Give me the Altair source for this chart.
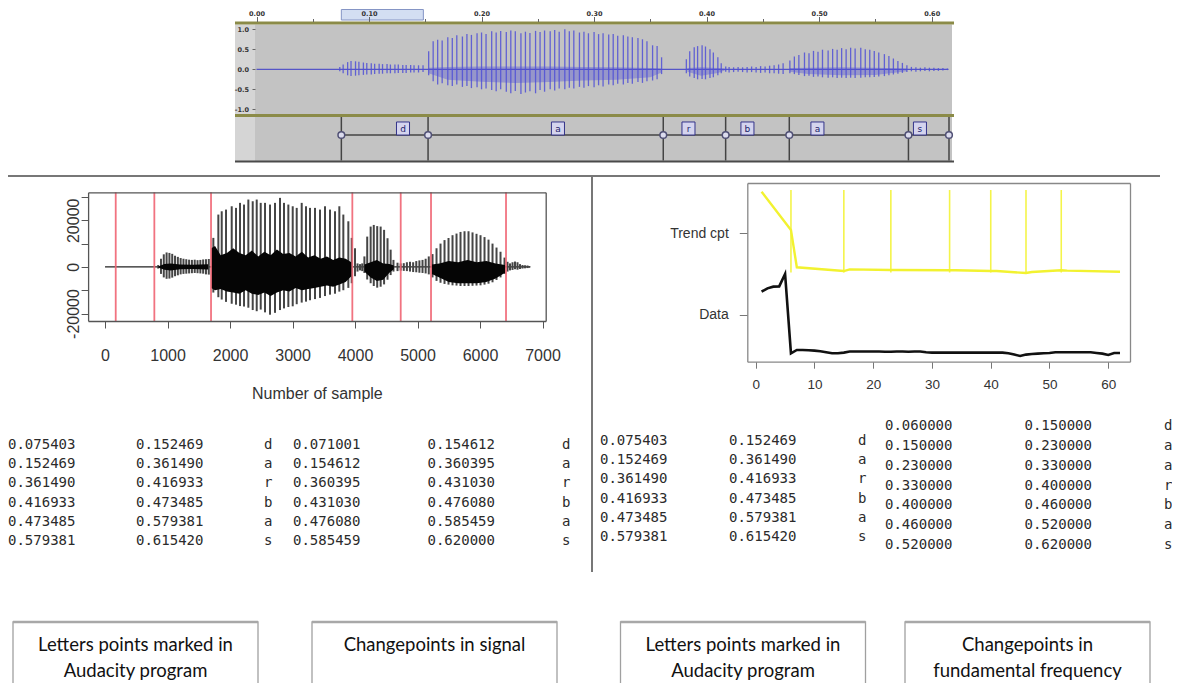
import altair as alt
import pandas as pd

W, H = 1164, 675
SANS = "Liberation Sans"
MONO = "DejaVu Sans Mono"
SMALL = "DejaVu Sans"
CAPF = "Liberation Sans Narrow, Lato, sans-serif"

# ======================= DATA =======================
# --- Audacity view (time in s, amplitude -1..1) ---
aud_time_ticks = [0.0, 0.1, 0.2, 0.3, 0.4, 0.5, 0.6]
aud_time_minor = [0.05, 0.15, 0.25, 0.35, 0.45, 0.55]
aud_amp_ticks = [-1.0, -0.5, 0.0, 0.5, 1.0]
aud_selection = [0.0754, 0.1483]
aud_signal_span = [0.0, 0.615]
aud_d = [(0.074, 0.06, -0.05), (0.077, 0.12, -0.10), (0.081, 0.18, -0.15), (0.084, 0.21, -0.17),
         (0.088, 0.20, -0.16), (0.091, 0.19, -0.15), (0.095, 0.17, -0.14), (0.098, 0.16, -0.13),
         (0.102, 0.15, -0.13), (0.105, 0.14, -0.12), (0.109, 0.14, -0.11), (0.112, 0.13, -0.11),
         (0.116, 0.13, -0.10), (0.119, 0.12, -0.10), (0.123, 0.12, -0.10), (0.126, 0.12, -0.09),
         (0.130, 0.11, -0.09), (0.133, 0.11, -0.09), (0.137, 0.11, -0.08), (0.140, 0.10, -0.08),
         (0.144, 0.10, -0.08), (0.148, 0.10, -0.07)]
aud_a = [(0.153, 0.45, -0.15), (0.157, 0.70, -0.30), (0.161, 0.74, -0.38), (0.165, 0.72, -0.35),
         (0.170, 0.80, -0.40), (0.174, 0.78, -0.42), (0.178, 0.85, -0.38), (0.183, 0.82, -0.44),
         (0.187, 0.88, -0.42), (0.191, 0.86, -0.47), (0.196, 0.90, -0.45), (0.200, 0.92, -0.50),
         (0.204, 0.88, -0.48), (0.209, 0.95, -0.52), (0.213, 0.92, -0.55), (0.217, 0.96, -0.50),
         (0.222, 0.93, -0.56), (0.226, 0.97, -0.60), (0.230, 0.95, -0.54), (0.235, 0.90, -0.62),
         (0.239, 0.94, -0.58), (0.243, 0.91, -0.55), (0.248, 0.96, -0.60), (0.252, 0.93, -0.52),
         (0.256, 0.97, -0.56), (0.261, 0.95, -0.50), (0.265, 0.98, -0.53), (0.269, 0.94, -0.48),
         (0.274, 1.00, -0.50), (0.278, 0.95, -0.46), (0.282, 0.97, -0.48), (0.287, 0.92, -0.44),
         (0.291, 0.94, -0.46), (0.295, 0.90, -0.42), (0.300, 0.93, -0.45), (0.304, 0.88, -0.40),
         (0.308, 0.90, -0.43), (0.313, 0.87, -0.38), (0.317, 0.88, -0.40), (0.321, 0.84, -0.36),
         (0.326, 0.85, -0.38), (0.330, 0.82, -0.34), (0.334, 0.80, -0.36), (0.339, 0.78, -0.32),
         (0.343, 0.75, -0.34), (0.347, 0.70, -0.30), (0.352, 0.60, -0.28), (0.356, 0.58, -0.25),
         (0.360, 0.30, -0.12)]
aud_r = [(0.382, 0.25, -0.10), (0.385, 0.45, -0.18), (0.389, 0.55, -0.22), (0.392, 0.58, -0.25),
         (0.396, 0.60, -0.24), (0.399, 0.57, -0.25), (0.403, 0.50, -0.22), (0.406, 0.42, -0.20),
         (0.410, 0.30, -0.15), (0.413, 0.15, -0.10), (0.417, 0.07, -0.06)]
aud_b = [(0.420, 0.06, -0.08), (0.424, 0.05, -0.07), (0.428, 0.06, -0.06), (0.432, 0.05, -0.07),
         (0.436, 0.06, -0.08), (0.440, 0.07, -0.07), (0.444, 0.06, -0.08), (0.448, 0.08, -0.09),
         (0.452, 0.07, -0.08), (0.456, 0.09, -0.10), (0.460, 0.10, -0.10), (0.464, 0.12, -0.11),
         (0.468, 0.15, -0.12)]
aud_a2 = [(0.474, 0.22, -0.10), (0.478, 0.32, -0.12), (0.482, 0.36, -0.14), (0.487, 0.42, -0.17),
          (0.491, 0.40, -0.16), (0.495, 0.46, -0.19), (0.499, 0.44, -0.18), (0.503, 0.49, -0.20),
          (0.508, 0.47, -0.21), (0.512, 0.51, -0.20), (0.516, 0.49, -0.22), (0.520, 0.53, -0.21),
          (0.524, 0.50, -0.22), (0.528, 0.54, -0.21), (0.532, 0.52, -0.22), (0.537, 0.54, -0.21),
          (0.541, 0.50, -0.20), (0.545, 0.49, -0.20), (0.549, 0.46, -0.19), (0.553, 0.42, -0.18),
          (0.558, 0.38, -0.17), (0.562, 0.33, -0.15), (0.566, 0.27, -0.13), (0.570, 0.21, -0.11),
          (0.574, 0.16, -0.09), (0.578, 0.10, -0.07)]
aud_s = [(0.582, 0.06, -0.05), (0.586, 0.05, -0.06), (0.590, 0.04, -0.05), (0.594, 0.05, -0.04),
         (0.598, 0.04, -0.05), (0.602, 0.04, -0.04), (0.606, 0.03, -0.04), (0.610, 0.03, -0.03),
         (0.614, 0.02, -0.02)]
aud_core = [("a", 0.153, 0.04, -0.10), ("a", 0.170, 0.06, -0.26), ("a", 0.200, 0.07, -0.31),
            ("a", 0.230, 0.07, -0.34), ("a", 0.260, 0.07, -0.32), ("a", 0.290, 0.06, -0.28),
            ("a", 0.320, 0.05, -0.26), ("a", 0.350, 0.03, -0.20), ("a", 0.360, 0.02, -0.08),
            ("r", 0.383, 0.03, -0.06), ("r", 0.395, 0.05, -0.16), ("r", 0.410, 0.03, -0.09),
            ("r", 0.416, 0.02, -0.03),
            ("a2", 0.474, 0.03, -0.06), ("a2", 0.490, 0.04, -0.12), ("a2", 0.520, 0.05, -0.15),
            ("a2", 0.550, 0.04, -0.14), ("a2", 0.578, 0.02, -0.05)]
aud_bounds = [0.075403, 0.152469, 0.361490, 0.416933, 0.473485, 0.579381, 0.615420]
aud_letters = ["d", "a", "r", "b", "a", "s"]
aud_letter_t = [0.1302, 0.2679, 0.3839, 0.4363, 0.4985, 0.5896]

# --- Signal plot (sample number, amplitude) ---
sig_x_ticks = [0, 1000, 2000, 3000, 4000, 5000, 6000, 7000]
sig_y_ticks = [-20000, -10000, 0, 10000, 20000, 30000]
sig_span = [0, 6800]
cp_signal = [171, 789, 1696, 3957, 4731, 5216, 6416]
sig_d = [(850, 800, -700), (895, 3500, -3000), (940, 5400, -4500), (985, 6200, -5100),
         (1030, 6000, -5000), (1075, 5600, -4600), (1120, 4800, -4000), (1165, 4300, -3600),
         (1210, 3800, -3200), (1255, 3500, -3000), (1300, 3300, -2900), (1345, 3100, -2800),
         (1390, 3000, -2700), (1435, 3100, -2600), (1480, 2900, -2700), (1525, 3000, -2800),
         (1570, 3200, -2900), (1615, 3300, -3200), (1660, 3400, -3300)]
sig_a = [(1733, 12450, -11000), (1813, 22450, -13000), (1867, 23860, -14000), (1936, 24590, -15000),
         (2027, 26010, -15800), (2096, 25320, -16200), (2160, 27470, -16800), (2224, 26740, -17000),
         (2293, 28890, -17500), (2363, 28160, -18500), (2427, 28890, -19000), (2491, 27470, -18300),
         (2560, 27470, -19500), (2640, 26740, -20500), (2720, 27470, -19700), (2800, 29610, -18500),
         (2864, 27470, -17800), (2933, 26740, -17200), (3003, 26010, -16900), (3067, 25320, -16000),
         (3147, 27470, -15300), (3216, 26010, -14900), (3280, 25320, -14300), (3360, 25320, -13800),
         (3440, 24590, -13300), (3520, 26010, -12500), (3600, 24590, -11900), (3680, 23860, -11500),
         (3749, 26010, -10600), (3813, 22450, -10000), (3893, 19570, -9000), (3947, 12450, -7000)]
sig_gap = [(4000, 8000, -4000), (4040, 1500, -2000), (4080, 1200, -1500), (4115, 1500, -1800)]
sig_r = [(4150, 4500, -2600), (4195, 13000, -5400), (4250, 17300, -7000), (4300, 18000, -8200),
         (4355, 17500, -8900), (4410, 17300, -8500), (4465, 15900, -7500), (4520, 12300, -5500),
         (4570, 7400, -3500), (4615, 3000, -2000)]
sig_b = [(4680, 1800, -1800), (4730, 1500, -1600), (4780, 1600, -1700), (4830, 2000, -1800),
         (4880, 2200, -2000), (4930, 2000, -2200), (4980, 2500, -2300), (5030, 2800, -2500),
         (5080, 3000, -2600), (5130, 3500, -2800), (5180, 4500, -3200)]
sig_a2 = [(5240, 5500, -4500), (5304, 8000, -6000), (5368, 10000, -6800), (5432, 11500, -7300),
          (5496, 12400, -7600), (5560, 13600, -7900), (5624, 14300, -8000), (5688, 15000, -8200),
          (5752, 15300, -8200), (5816, 15300, -8200), (5880, 14800, -8100), (5944, 14200, -8000),
          (6008, 13600, -7900), (6072, 12800, -7600), (6136, 11700, -7200), (6200, 10000, -6600),
          (6264, 8300, -5600), (6328, 6500, -4500), (6392, 4000, -3000)]
sig_s = [(6440, 2200, -2000), (6480, 1500, -1500), (6520, 2000, -1300), (6560, 2300, -1000),
         (6600, 2000, -1200), (6640, 1200, -900), (6680, 800, -700), (6720, 700, -600),
         (6760, 600, -500), (6790, 400, -300)]
sig_core = [("d", 850, 200, -200), ("d", 950, 1200, -1200), ("d", 1050, 1500, -1500),
            ("d", 1200, 1000, -1000), ("d", 1400, 900, -900), ("d", 1650, 1100, -1100),
            ("a", 1700, 8000, -9000), ("a", 1760, 9000, -10000), ("a", 1850, 5000, -9500),
            ("a", 1950, 6000, -10500), ("a", 2050, 8000, -11000), ("a", 2150, 6000, -11500),
            ("a", 2250, 5000, -10000), ("a", 2350, 7000, -11500), ("a", 2450, 4500, -12000),
            ("a", 2550, 6500, -11000), ("a", 2650, 5000, -12500), ("a", 2750, 7500, -11000),
            ("a", 2850, 5500, -10000), ("a", 2950, 6000, -10500), ("a", 3050, 4500, -9000),
            ("a", 3150, 6500, -10000), ("a", 3250, 4000, -9500), ("a", 3350, 5000, -9000),
            ("a", 3450, 3500, -8500), ("a", 3550, 4500, -8000), ("a", 3650, 3000, -8500),
            ("a", 3750, 4000, -7500), ("a", 3850, 3500, -6500), ("a", 3940, 2000, -4000),
            ("r", 4150, 1000, -2000), ("r", 4250, 2000, -4500), ("r", 4350, 3000, -6000),
            ("r", 4450, 1500, -5500), ("r", 4550, 1200, -2500), ("r", 4620, 600, -1000),
            ("a2", 5230, 1000, -3000), ("a2", 5350, 1500, -4500), ("a2", 5500, 2500, -6500),
            ("a2", 5650, 2000, -7000), ("a2", 5800, 3000, -7000), ("a2", 5950, 2000, -7000),
            ("a2", 6100, 2500, -6500), ("a2", 6250, 1500, -5000), ("a2", 6400, 800, -2500)]

# --- Fundamental frequency plot ---
f0_x_ticks = [0, 10, 20, 30, 40, 50, 60]
f0_y_ticks = [0, 1]
f0_frame = list(range(1, 63))
f0_data = [0.285, 0.326, 0.347, 0.350, 0.502, -0.469, -0.428, -0.428, -0.432, -0.436,
           -0.444, -0.457, -0.469, -0.469, -0.461, -0.448, -0.448, -0.448, -0.448, -0.448,
           -0.448, -0.450, -0.450, -0.448, -0.448, -0.450, -0.448, -0.448, -0.457, -0.461,
           -0.461, -0.461, -0.461, -0.461, -0.461, -0.461, -0.461, -0.461, -0.461, -0.461,
           -0.461, -0.461, -0.469, -0.485, -0.502, -0.485, -0.477, -0.473, -0.469, -0.465,
           -0.457, -0.457, -0.457, -0.457, -0.457, -0.457, -0.457, -0.465, -0.473, -0.489,
           -0.465, -0.465]
trend_x = [1, 6, 7, 15, 16, 23, 24, 33, 34, 40, 41, 46, 47, 52, 53, 62]
trend_y = [1.509, 1.040, 0.584, 0.538, 0.559, 0.551, 0.551, 0.547, 0.547, 0.538, 0.538,
           0.514, 0.526, 0.547, 0.543, 0.530]
cpt_f0 = [6, 15, 23, 33, 40, 46, 52]
cpt_f0_span = [1.53, 0.52]

# --- Tables ---
tab1 = (["0.075403", "0.152469", "0.361490", "0.416933", "0.473485", "0.579381"],
        ["0.152469", "0.361490", "0.416933", "0.473485", "0.579381", "0.615420"],
        ["d", "a", "r", "b", "a", "s"])
tab2 = (["0.071001", "0.154612", "0.360395", "0.431030", "0.476080", "0.585459"],
        ["0.154612", "0.360395", "0.431030", "0.476080", "0.585459", "0.620000"],
        ["d", "a", "r", "b", "a", "s"])
tab3 = (["0.075403", "0.152469", "0.361490", "0.416933", "0.473485", "0.579381"],
        ["0.152469", "0.361490", "0.416933", "0.473485", "0.579381", "0.615420"],
        ["d", "a", "r", "b", "a", "s"])
tab4 = (["0.060000", "0.150000", "0.230000", "0.330000", "0.400000", "0.460000", "0.520000"],
        ["0.150000", "0.230000", "0.330000", "0.400000", "0.460000", "0.520000", "0.620000"],
        ["d", "a", "a", "r", "b", "a", "s"])

captions = [["Letters points marked in", "Audacity program"],
            ["Changepoints in signal"],
            ["Letters points marked in", "Audacity program"],
            ["Changepoints in", "fundamental frequency"]]

# ======================= LAYOUT (pixels) =======================
LAY = {
    "aud_t": [248.5, 943.9], "aud_a": [101.3, 21.3],
    "sig_x": [80.1, 537.7], "sig_y": [313.0, 184.3],
    "f0_x": [739.3, 1122.0], "f0_y": [353.7, 175.0],
    "tab1": ([0, 256], [437, 533]), "tab2": ([285, 554], [437, 533]),
    "tab3": ([592, 850], [433, 529]), "tab4": ([877, 1156], [418, 537]),
    "cap_x": [127.5, 426.5, 735.0, 1019.5], "cap_y": [637, 663],
}
AUD_T_DOM = [0.0, 0.618]
SIG_X_DOM = [-271, 7051]
SIG_Y_DOM = [-23200, 32000]
F0_X_DOM = [-1.43, 63.7]
F0_Y_DOM = [-0.572, 1.616]


def qs(dom, rng):
    return alt.Scale(domain=dom, range=rng, nice=False, zero=False)


TS = qs(AUD_T_DOM, LAY["aud_t"])
AS = qs([-1.0, 1.0], LAY["aud_a"])
SX = qs(SIG_X_DOM, LAY["sig_x"])
SY = qs(SIG_Y_DOM, LAY["sig_y"])
FX = qs(F0_X_DOM, LAY["f0_x"])
FY = qs(F0_Y_DOM, LAY["f0_y"])

ONE = pd.DataFrame({"k": [0]})


def deco_rect(x, x2, y, y2, fill):
    return alt.Chart(ONE).mark_rect(fill=fill).encode(
        x=alt.value(x), x2=alt.value(x2), y=alt.value(y), y2=alt.value(y2))


def deco_rule(x, x2, y, y2, color, width):
    return alt.Chart(ONE).mark_rule(color=color, strokeWidth=width).encode(
        x=alt.value(x), x2=alt.value(x2), y=alt.value(y), y2=alt.value(y2))


def strokes_df(*segs):
    rows = []
    for seg in segs:
        for x, hi, lo in seg:
            rows.append({"x": x, "hi": hi, "lo": lo})
    return pd.DataFrame(rows)


layers = []

# ======================= TOP: Audacity panel =======================
layers += [
    deco_rect(227, 247, 16.5, 106, "#d5d5d5"),
    deco_rect(247, 944, 16.5, 106, "#c3c3c3"),
    deco_rect(227, 247, 109, 153, "#d5d5d5"),
    deco_rect(247, 944, 109, 153, "#c3c3c3"),
    deco_rect(227, 946, 13.5, 16.5, "#8b8b48"),
    deco_rect(227, 946, 106, 109, "#8b8b48"),
    deco_rect(227, 946, 152.5, 154.5, "#4a4a4a"),
]
sel_df = pd.DataFrame({"t0": [aud_selection[0]], "t1": [aud_selection[1]]})
layers.append(alt.Chart(sel_df).mark_rect(fill="#d3def2", stroke="#8595c5", strokeWidth=1).encode(
    x=alt.X("t0:Q", scale=TS, axis=None), x2="t1:Q", y=alt.value(1.5), y2=alt.value(12)))
# ruler axes
layers.append(alt.Chart(pd.DataFrame({"t": aud_time_ticks})).mark_point(opacity=0).encode(
    x=alt.X("t:Q", scale=TS, axis=alt.Axis(
        orient="top", offset=-13.5, values=aud_time_ticks, format=".2f", labelFont=SMALL,
        labelFontSize=6.5, labelFontWeight="bold", labelColor="#333", tickSize=5, tickColor="#666",
        labelPadding=1.5, labelBaseline="alphabetic", domain=False, grid=False, title=None,
        zindex=1, labelFlush=False, labelOverlap=False))))
layers.append(alt.Chart(pd.DataFrame({"t": aud_time_minor})).mark_point(opacity=0).encode(
    x=alt.X("t:Q", scale=TS, axis=alt.Axis(
        orient="top", offset=-13.5, values=aud_time_minor, labels=False, tickSize=3,
        tickColor="#666", domain=False, grid=False, title=None, zindex=1))))
layers.append(alt.Chart(pd.DataFrame({"a": aud_amp_ticks})).mark_point(opacity=0).encode(
    y=alt.Y("a:Q", scale=AS, axis=alt.Axis(
        orient="left", offset=-247, values=aud_amp_ticks,
        labelExpr="replace(format(datum.value, '.1f'), '\u2212', '-')", labelFont=SMALL,
        labelFontSize=6.5, labelFontWeight="bold", labelColor="#333", tickSize=3, tickColor="#666",
        labelPadding=3.5, domain=False, grid=False, title=None, zindex=1, labelFlush=False,
        labelOverlap=False))))
# waveform
layers.append(alt.Chart(pd.DataFrame({"t": aud_signal_span, "a": [0.0, 0.0]})).mark_line(
    color="#3a3ac8", strokeWidth=1).encode(
    x=alt.X("t:Q", scale=TS, axis=None), y=alt.Y("a:Q", scale=AS, axis=None)))
core_df = pd.DataFrame(aud_core, columns=["seg", "t", "hi", "lo"])
layers.append(alt.Chart(core_df).mark_area(color="#4d4dd6", opacity=0.38).encode(
    x=alt.X("t:Q", scale=TS, axis=None), y=alt.Y("hi:Q", scale=AS, axis=None), y2="lo:Q",
    detail="seg:N"))
layers.append(alt.Chart(strokes_df(aud_d, aud_a, aud_r, aud_b, aud_a2, aud_s)).mark_rule(
    color="#5050d6", strokeWidth=1.3, opacity=0.85).encode(
    x=alt.X("x:Q", scale=TS, axis=None), y=alt.Y("hi:Q", scale=AS, axis=None), y2="lo:Q"))
# label track
bnd_df = pd.DataFrame({"t": aud_bounds})
layers.append(alt.Chart(bnd_df).mark_rule(color="#444", strokeWidth=1.5).encode(
    x=alt.X("t:Q", scale=TS, axis=None), y=alt.value(109), y2=alt.value(152.5)))
span_df = pd.DataFrame({"t0": [aud_bounds[0]], "t1": [aud_bounds[-1]]})
layers.append(alt.Chart(span_df).mark_rule(color="#444", strokeWidth=1.5).encode(
    x=alt.X("t0:Q", scale=TS, axis=None), x2="t1:Q", y=alt.value(127)))
layers.append(alt.Chart(bnd_df).mark_point(shape="circle", size=45, filled=True, fill="#dcdcee",
                                           stroke="#505075", strokeWidth=1.5, opacity=1).encode(
    x=alt.X("t:Q", scale=TS, axis=None), y=alt.value(127)))
let_df = pd.DataFrame({"t": aud_letter_t, "txt": aud_letters})
layers.append(alt.Chart(let_df).mark_point(shape="square", size=170, filled=True, fill="#d4d4ee",
                                           stroke="#34348a", strokeWidth=1, opacity=1).encode(
    x=alt.X("t:Q", scale=TS, axis=None), y=alt.value(120.5)))
layers.append(alt.Chart(let_df).mark_text(font=SMALL, fontSize=9, color="#22226a",
                                          baseline="middle").encode(
    x=alt.X("t:Q", scale=TS, axis=None), y=alt.value(120.5), text="txt:N"))

# ======================= separators =======================
layers.append(deco_rule(0, 1152, 168, 168, "#777", 2))
layers.append(deco_rule(584, 584, 168, 564, "#777", 2))

# ======================= LEFT: signal plot =======================
layers.append(alt.Chart(pd.DataFrame({"x": sig_span, "y": [0, 0]})).mark_line(
    color="#222", strokeWidth=1.2).encode(
    x=alt.X("x:Q", scale=SX, axis=None), y=alt.Y("y:Q", scale=SY, axis=None)))
layers.append(alt.Chart(strokes_df(sig_d, sig_a, sig_gap, sig_r, sig_b, sig_a2, sig_s)).mark_rule(
    color="#454545", strokeWidth=2).encode(
    x=alt.X("x:Q", scale=SX, axis=None), y=alt.Y("hi:Q", scale=SY, axis=None), y2="lo:Q"))
sc_df = pd.DataFrame(sig_core, columns=["seg", "x", "hi", "lo"])
layers.append(alt.Chart(sc_df).mark_area(color="#050505").encode(
    x=alt.X("x:Q", scale=SX, axis=None), y=alt.Y("hi:Q", scale=SY, axis=None), y2="lo:Q",
    detail="seg:N"))
layers.append(alt.Chart(pd.DataFrame({"cp": cp_signal})).mark_rule(
    color="#f06472", strokeWidth=1.8, opacity=0.9).encode(
    x=alt.X("cp:Q", scale=SX, axis=None),
    y=alt.YDatum(SIG_Y_DOM[0], scale=SY, axis=None), y2=alt.Y2Datum(SIG_Y_DOM[1])))
# axes (box built from four axis domains)
layers.append(alt.Chart(pd.DataFrame({"x": sig_x_ticks})).mark_point(opacity=0).encode(
    x=alt.X("x:Q", scale=SX, axis=alt.Axis(
        orient="bottom", offset=LAY["sig_y"][0] - H, values=sig_x_ticks, format="d",
        labelFont=SANS, labelFontSize=16, labelColor="#333", tickSize=7, tickColor="#555",
        domainColor="#555", domainWidth=1.3, labelPadding=19, title="Number of sample",
        titleFont=SANS, titleFontSize=16, titleFontWeight="normal", titleColor="#333",
        titlePadding=22, grid=False, zindex=1, labelFlush=False, labelOverlap=False))))
layers.append(alt.Chart(pd.DataFrame({"y": sig_y_ticks})).mark_point(opacity=0).encode(
    y=alt.Y("y:Q", scale=SY, axis=alt.Axis(
        orient="left", offset=-LAY["sig_x"][0], values=sig_y_ticks,
        labelExpr="datum.value % 20000 === 0 ? '' + datum.value : ''",
        labelAngle=270, labelAlign="center", labelBaseline="alphabetic", labelPadding=3,
        labelFont=SANS, labelFontSize=16, labelColor="#333", tickSize=7, tickColor="#555",
        domainColor="#555", domainWidth=1.3, grid=False, title=None, zindex=1,
        labelFlush=False, labelOverlap=False))))
layers.append(alt.Chart(pd.DataFrame({"x": sig_span, "y": [0, 0]})).mark_point(opacity=0).encode(
    x=alt.X("x:Q", scale=SX, axis=alt.Axis(
        orient="top", offset=-LAY["sig_y"][1], labels=False, ticks=False, domainColor="#555",
        domainWidth=1.3, grid=False, title=None, zindex=1)),
    y=alt.Y("y:Q", scale=SY, axis=alt.Axis(
        orient="right", offset=LAY["sig_x"][1] - W, labels=False, ticks=False, domainColor="#555",
        domainWidth=1.3, grid=False, title=None, zindex=1))))

# ======================= RIGHT: F0 plot =======================
layers.append(alt.Chart(pd.DataFrame({"x": cpt_f0})).mark_rule(
    color="#f4f44a", strokeWidth=1.6).encode(
    x=alt.X("x:Q", scale=FX, axis=None),
    y=alt.YDatum(cpt_f0_span[0], scale=FY, axis=None), y2=alt.Y2Datum(cpt_f0_span[1])))
layers.append(alt.Chart(pd.DataFrame({"x": trend_x, "y": trend_y})).mark_line(
    color="#f2f230", strokeWidth=2.4).encode(
    x=alt.X("x:Q", scale=FX, axis=None), y=alt.Y("y:Q", scale=FY, axis=None)))
layers.append(alt.Chart(pd.DataFrame({"x": f0_frame, "y": f0_data})).mark_line(
    color="#111", strokeWidth=2.6).encode(
    x=alt.X("x:Q", scale=FX, axis=None), y=alt.Y("y:Q", scale=FY, axis=None)))
layers.append(alt.Chart(pd.DataFrame({"x": f0_x_ticks})).mark_point(opacity=0).encode(
    x=alt.X("x:Q", scale=FX, axis=alt.Axis(
        orient="bottom", offset=LAY["f0_y"][0] - H, values=f0_x_ticks, format="d",
        labelFont=SANS, labelFontSize=13.5, labelColor="#333", tickSize=6.5, tickColor="#777",
        domainColor="#888", domainWidth=1.3, labelPadding=9, title=None, grid=False, zindex=1,
        labelFlush=False, labelOverlap=False))))
layers.append(alt.Chart(pd.DataFrame({"y": f0_y_ticks})).mark_point(opacity=0).encode(
    y=alt.Y("y:Q", scale=FY, axis=alt.Axis(
        orient="left", offset=-LAY["f0_x"][0], values=f0_y_ticks,
        labelExpr="datum.value === 1 ? 'Trend cpt' : 'Data'", labelFont=SANS, labelFontSize=14,
        labelColor="#333", tickSize=8, tickColor="#777", domainColor="#888", domainWidth=1.3,
        labelPadding=11, grid=False, title=None, zindex=1, labelFlush=False, labelOverlap=False))))
layers.append(alt.Chart(pd.DataFrame({"x": f0_x_ticks[:2], "y": f0_y_ticks})).mark_point(opacity=0).encode(
    x=alt.X("x:Q", scale=FX, axis=alt.Axis(
        orient="top", offset=-LAY["f0_y"][1], labels=False, ticks=False, domainColor="#888",
        domainWidth=1.3, grid=False, title=None, zindex=1)),
    y=alt.Y("y:Q", scale=FY, axis=alt.Axis(
        orient="right", offset=LAY["f0_x"][1] - W, labels=False, ticks=False, domainColor="#888",
        domainWidth=1.3, grid=False, title=None, zindex=1))))


# ======================= tables =======================
def table_layer(tab, key):
    xr, yr = LAY[key]
    rows = []
    for c, col in enumerate(tab):
        for r, s in enumerate(col):
            rows.append({"col": c, "row": r, "txt": s})
    n = len(tab[0])
    return alt.Chart(pd.DataFrame(rows)).mark_text(
        align="left", baseline="middle", font=MONO, fontSize=14, color="#2b2b2b").encode(
        x=alt.X("col:Q", scale=qs([0, 2], xr), axis=None),
        y=alt.Y("row:Q", scale=qs([0, n - 1], yr), axis=None),
        text="txt:N")


layers += [table_layer(tab1, "tab1"), table_layer(tab2, "tab2"),
           table_layer(tab3, "tab3"), table_layer(tab4, "tab4")]

# ======================= caption boxes =======================
CX = qs([0, 1, 2, 3], LAY["cap_x"])
box_df = pd.DataFrame({"idx": list(range(len(captions)))})
layers.append(alt.Chart(box_df).mark_rect(fill="white", stroke="#a0a0a0", strokeWidth=1.3,
                                          xOffset=-122.5, x2Offset=122.5).encode(
    x=alt.X("idx:Q", scale=CX, axis=None), x2="idx:Q", y=alt.value(614), y2=alt.value(700)))
layers.append(alt.Chart(box_df).mark_rule(color="#a8a8a8", strokeWidth=2.5,
                                          xOffset=-122.5, x2Offset=122.5).encode(
    x=alt.X("idx:Q", scale=CX, axis=None), x2="idx:Q", y=alt.value(614)))
cap_rows = []
for i, lines in enumerate(captions):
    for j, s in enumerate(lines):
        cap_rows.append({"idx": i, "line": j, "txt": s})
layers.append(alt.Chart(pd.DataFrame(cap_rows)).mark_text(
    font=CAPF, fontSize=18.5, color="#111", align="center", baseline="middle").encode(
    x=alt.X("idx:Q", scale=CX, axis=None),
    y=alt.Y("line:Q", scale=qs([0, 1], LAY["cap_y"]), axis=None),
    text="txt:N"))

chart = alt.layer(*layers).resolve_scale(x="independent", y="independent").properties(
    width=W, height=H, padding=0, autosize=alt.AutoSizeParams(type="none")
).configure_view(strokeWidth=0)

chart.save("out.html", embed_options={"renderer": "svg", "actions": False})
